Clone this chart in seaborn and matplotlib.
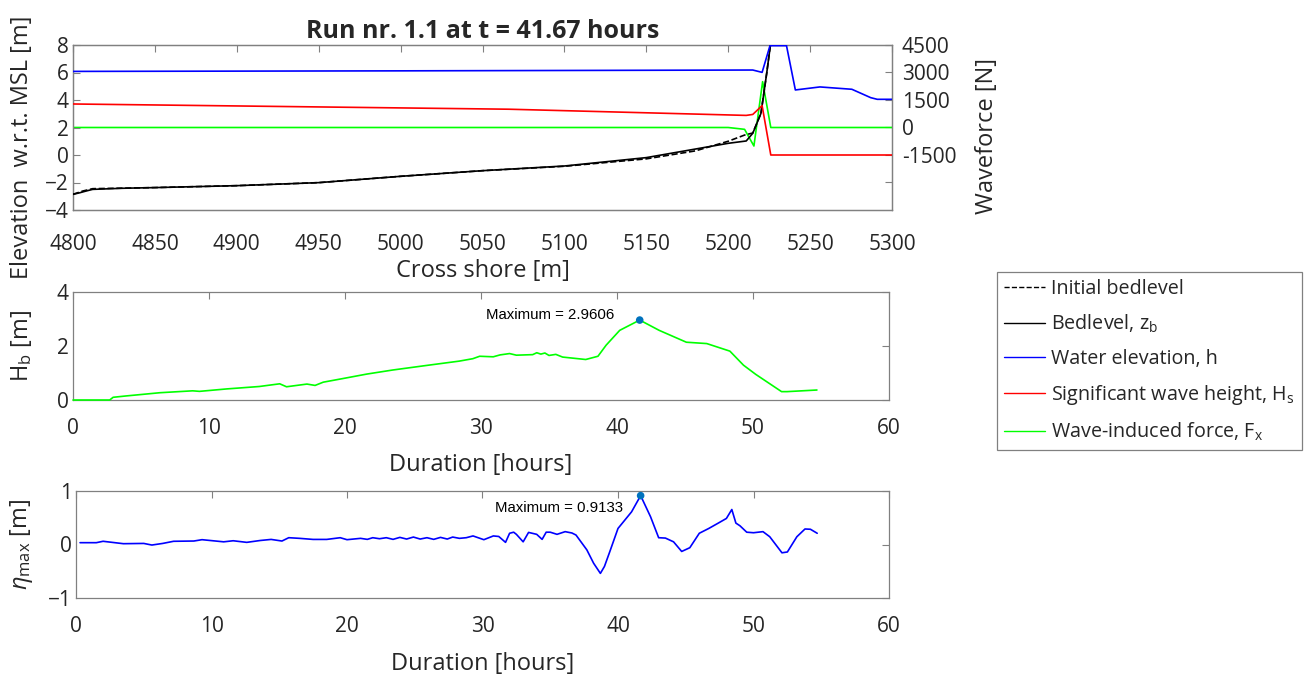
import matplotlib
matplotlib.use("Agg")
import matplotlib.pyplot as plt
from matplotlib.lines import Line2D
import seaborn as sns
import pandas as pd

# ---------------- data ----------------
# Top panel: cross-shore profiles
bed_x = [4800, 4804, 4808, 4812, 4830, 4850, 4900, 4950, 5000, 5050, 5100, 5150, 5200, 5211, 5215, 5220, 5223.5, 5226, 5230, 5300]
bed_z = [-2.86, -2.75, -2.62, -2.50, -2.42, -2.37, -2.23, -2.01, -1.55, -1.14, -0.80, -0.19, 0.85, 1.02, 1.58, 3.03, 5.94, 8.2, 9.0, 9.0]

init_x = [4800, 4806, 4812, 4850, 4900, 4950, 5000, 5050, 5100, 5150, 5180, 5200, 5210, 5215, 5220, 5223.5, 5226, 5230, 5300]
init_z = [-2.86, -2.62, -2.45, -2.37, -2.23, -2.01, -1.55, -1.14, -0.82, -0.28, 0.30, 1.00, 1.45, 1.60, 3.03, 5.94, 8.2, 9.0, 9.0]

water_x = [4800, 5000, 5215, 5220.7, 5225.5, 5235.6, 5241, 5256, 5275.5, 5287, 5291, 5300]
water_h = [6.08, 6.12, 6.18, 6.01, 7.95, 7.95, 4.73, 4.95, 4.78, 4.17, 4.05, 4.05]

hs_x = [4800, 5066, 5211, 5215, 5220.7, 5226, 5300]
hs_v = [3.71, 3.33, 2.88, 2.95, 3.59, 0.0, 0.0]

fx_x = [4800, 5200, 5210, 5215.7, 5221, 5226, 5300]
fx_v = [0, 0, -100, -1010, 2500, 0, 0]

# Middle panel: breaking wave height vs duration
hb_t = [0, 2.7, 2.95, 3.9, 5.15, 6.4, 8.8, 9.3, 11.3, 13.7, 15.2, 15.7, 17.2, 17.8, 18.4, 19.8,
        21.6, 23.5, 26.0, 28.4, 29.4, 29.9, 30.9, 31.4, 32.1, 32.6, 33.8, 34.1, 34.4, 34.7, 35.0,
        35.5, 36.0, 37.7, 38.6, 39.2, 40.2, 41.67, 43.1, 45.1, 46.6, 48.3, 49.3, 50.2, 52.1, 52.5, 54.7]
hb_v = [0.0, 0.0, 0.10, 0.15, 0.21, 0.27, 0.34, 0.32, 0.41, 0.50, 0.60, 0.49, 0.59, 0.54, 0.66, 0.79,
        0.96, 1.11, 1.28, 1.44, 1.53, 1.62, 1.60, 1.67, 1.72, 1.66, 1.68, 1.75, 1.70, 1.74, 1.65,
        1.69, 1.59, 1.50, 1.62, 2.03, 2.58, 2.9606, 2.58, 2.14, 2.09, 1.81, 1.29, 0.95, 0.31, 0.31, 0.37]

# Bottom panel: maximum water level vs duration
eta_t = [0.3, 1.5, 2.0, 3.5, 5.0, 5.6, 6.4, 7.2, 8.7, 9.3, 10.9, 11.6, 12.6, 13.6, 14.4, 15.2, 15.7,
         16.5, 17.5, 18.5, 19.5, 20.0, 21.0, 21.5, 21.9, 22.4, 22.9, 23.4, 23.9, 24.4, 24.9, 25.4,
         25.9, 26.4, 26.9, 27.4, 27.8, 28.3, 28.8, 29.3, 30.1, 30.8, 31.2, 31.7, 32.0, 32.3, 32.5,
         33.0, 33.4, 34.0, 34.4, 34.7, 35.0, 35.5, 36.1, 36.6, 36.9, 37.7, 38.2, 38.7, 39.0, 39.4,
         40.0, 40.5, 41.0, 41.67, 42.4, 43.0, 43.5, 44.1, 44.7, 45.3, 46.0, 46.7, 47.4, 48.0, 48.4,
         48.7, 49.0, 49.5, 50.0, 50.7, 51.2, 52.1, 52.5, 53.2, 53.8, 54.2, 54.7]
eta_v = [0.034, 0.034, 0.06, 0.015, 0.02, -0.01, 0.02, 0.06, 0.065, 0.09, 0.05, 0.07, 0.04, 0.075, 0.095, 0.065, 0.127,
         0.115, 0.095, 0.095, 0.127, 0.09, 0.115, 0.096, 0.127, 0.108, 0.127, 0.096, 0.133, 0.102, 0.139, 0.102,
         0.127, 0.096, 0.133, 0.102, 0.139, 0.115, 0.127, 0.16, 0.09, 0.16, 0.15, 0.04, 0.21, 0.23, 0.19,
         0.05, 0.226, 0.19, 0.096, 0.23, 0.23, 0.19, 0.24, 0.215, 0.177, -0.10, -0.35, -0.54, -0.41, -0.13,
         0.30, 0.455, 0.61, 0.9133, 0.52, 0.127, 0.12, 0.05, -0.13, -0.06, 0.21, 0.30, 0.40, 0.487, 0.654,
         0.40, 0.35, 0.23, 0.22, 0.24, 0.145, -0.155, -0.14, 0.145, 0.29, 0.285, 0.21]

hb_max_t, hb_max = 41.67, 2.9606
eta_max_t, eta_max = 41.67, 0.9133

title_text = "Run nr. 1.1 at t = 41.67 hours"
legend_labels = ["Initial bedlevel", "Bedlevel, z$_\\mathregular{b}$", "Water elevation, h",
                 "Significant wave height, H$_\\mathregular{s}$", "Wave-induced force, F$_\\mathregular{x}$"]

# ---------------- style ----------------
sns.set_style("white")
plt.rcParams["font.family"] = ["Open Sans", "DejaVu Sans"]
plt.rcParams["mathtext.fontset"] = "custom"
plt.rcParams["mathtext.rm"] = "Open Sans"
plt.rcParams["mathtext.it"] = "Open Sans:italic"
plt.rcParams["mathtext.bf"] = "Open Sans:bold"
plt.rcParams["text.color"] = "#262626"
plt.rcParams["axes.labelcolor"] = "#262626"
plt.rcParams["xtick.color"] = "#262626"
plt.rcParams["ytick.color"] = "#262626"

W, H = 1307, 677
fig = plt.figure(figsize=(W / 100, H / 100), dpi=100)

def frac(left, top, right, bottom):
    return [left / W, 1 - bottom / H, (right - left) / W, (bottom - top) / H]

SPINE = "#808080"
TICK_FS = 15
LAB_FS = 17

def style_axes(ax, mirror=True, xpad=13):
    for s in ax.spines.values():
        s.set_color(SPINE)
        s.set_linewidth(0.9)
    ax.tick_params(direction="in", length=5, width=0.8, color=SPINE, labelsize=TICK_FS,
                   top=mirror, right=mirror, pad=3)
    ax.tick_params(axis="x", pad=xpad)

lw = 1.2
kw = dict(sort=False, estimator=None, lw=lw, zorder=3)

# ---- top panel ----
ax1 = fig.add_axes(frac(73, 45, 892, 210))
sns.lineplot(x=init_x, y=init_z, ax=ax1, color="black", linestyle="--", **kw)
sns.lineplot(x=bed_x, y=bed_z, ax=ax1, color="black", **kw)
sns.lineplot(x=water_x, y=water_h, ax=ax1, color="#0000ff", **kw)
sns.lineplot(x=hs_x, y=hs_v, ax=ax1, color="#ff0000", **kw)
ax1.set_xlim(4800, 5300)
ax1.set_ylim(-4, 8)
ax1.set_xticks(range(4800, 5301, 50))
ax1.set_yticks(range(-4, 9, 2))
style_axes(ax1, mirror=False, xpad=17)
ax1.tick_params(top=True)
ax1.set_xlabel("Cross shore [m]", fontsize=LAB_FS, labelpad=3)
ax1.set_ylabel("Elevation  w.r.t. MSL [m]", fontsize=LAB_FS)
ax1.yaxis.set_label_coords(-0.048, 0.38)
ax1.set_title(title_text, fontsize=18, fontweight="bold", pad=5)

ax2 = ax1.twinx()
sns.lineplot(x=fx_x, y=fx_v, ax=ax2, color="#00ff00", **kw)
ax2.set_ylim(-4500, 4500)
ax2.set_yticks([-3000, -1500, 0, 1500, 3000, 4500])
ax2.set_yticklabels(["", "-1500", "0", "1500", "3000", "4500"])
style_axes(ax2, mirror=False)
ax2.tick_params(left=False, right=True, top=False, bottom=False, pad=7)
ax2.set_ylabel("Waveforce [N]", fontsize=LAB_FS)
ax2.yaxis.set_label_coords(1.101, 0.45)
ax1.set_zorder(ax2.get_zorder() + 1)
ax1.patch.set_visible(False)

# ---- middle panel ----
ax3 = fig.add_axes(frac(73, 292, 889, 400))
sns.lineplot(x=hb_t, y=hb_v, ax=ax3, color="#00ff00", clip_on=False, **kw)
sns.scatterplot(x=[hb_max_t], y=[hb_max], ax=ax3, color="#0072BD", s=30, edgecolor="none", zorder=5)
ax3.text(30.4, 3.14, f"Maximum = {hb_max}", fontsize=10.8, family="Liberation Sans", ha="left", va="center",
         color="black")
ax3.set_xlim(0, 60)
ax3.set_ylim(0, 4)
ax3.set_xticks(range(0, 61, 10))
ax3.set_yticks([0, 2, 4])
style_axes(ax3)
ax3.set_xlabel("Duration [hours]", fontsize=LAB_FS, labelpad=10)
ax3.set_ylabel("H$_\\mathregular{b}$ [m]", fontsize=LAB_FS)
ax3.yaxis.set_label_coords(-0.048, 0.5)

# ---- bottom panel ----
ax4 = fig.add_axes(frac(76, 491, 889, 598))
sns.lineplot(x=eta_t, y=eta_v, ax=ax4, color="#0000ff", **kw)
sns.scatterplot(x=[eta_max_t], y=[eta_max], ax=ax4, color="#0072BD", s=30, edgecolor="none", zorder=5,
                clip_on=False)
ax4.text(30.9, 0.69, f"Maximum = {eta_max}", fontsize=10.8, family="Liberation Sans", ha="left", va="center",
         color="black")
ax4.set_xlim(0, 60)
ax4.set_ylim(-1, 1)
ax4.set_xticks(range(0, 61, 10))
ax4.set_yticks([-1, 0, 1])
style_axes(ax4)
ax4.set_xlabel("Duration [hours]", fontsize=LAB_FS, labelpad=11)
ax4.set_ylabel("$\\eta_\\mathregular{max}$ [m]", fontsize=LAB_FS)
ax4.yaxis.set_label_coords(-0.050, 0.5)

for ax in (ax1, ax2, ax3, ax4):
    if ax.get_legend() is not None:
        ax.get_legend().remove()

# ---- legend ----
handles = [
    Line2D([], [], color="black", lw=1.0, linestyle="--"),
    Line2D([], [], color="black", lw=1.0),
    Line2D([], [], color="#0000ff", lw=1.0),
    Line2D([], [], color="#ff0000", lw=1.0),
    Line2D([], [], color="#00ff00", lw=1.0),
]
leg = fig.legend(handles, legend_labels, loc="upper left", bbox_to_anchor=(997 / W, 1 - 272 / H),
                 fontsize=14.2, frameon=True, fancybox=False, framealpha=1, edgecolor=SPINE,
                 handlelength=2.1, handletextpad=0.3, labelspacing=0.7, borderaxespad=0,
                 borderpad=0.35)
leg.get_frame().set_linewidth(0.9)

fig.savefig("out.png", dpi=100)
